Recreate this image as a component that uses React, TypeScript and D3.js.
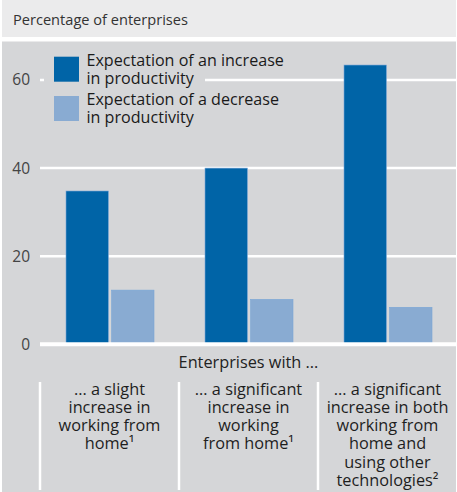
import React from "react";
import * as d3 from "d3";

const categoryLines: string[][] = [
  ["... a slight", "increase in", "working from", "home¹"],
  ["... a significant", "increase in", "working", "from home¹"],
  ["... a significant", "increase in both", "working from", "home and", "using other", "technologies²"],
];
const categories = ["slight", "significant", "both"];
const increaseValues = [34.8, 40.0, 63.4];
const decreaseValues = [12.3, 10.2, 8.4];
const yTicks = [0, 20, 40, 60];
const seriesNames = [
  ["Expectation of an increase", "in productivity"],
  ["Expectation of a decrease", "in productivity"],
];
const yTitle = "Percentage of enterprises";
const xTitle = "Enterprises with ...";

const W = 457;
const H = 492;
const DARK = "#0064a7";
const LIGHT = "#89abd2";
const PANEL = "#d5d6d8";
const HEADER = "#ebebec";
const FONT = "'Open Sans', 'Noto Sans', sans-serif";

export default function App() {
  const x = d3.scaleBand<string>().domain(categories).range([40, 457]).padding(0);
  const y = d3.scaleLinear().domain([0, 60]).range([344.3, 80]);
  const inner = d3
    .scaleBand<string>()
    .domain(["inc", "dec"])
    .range([26, x.bandwidth() - 25])
    .paddingInner(0.07);

  const series = [
    { key: "inc", values: increaseValues, color: DARK },
    { key: "dec", values: decreaseValues, color: LIGHT },
  ];

  return (
    <svg
      width={W}
      height={H}
      style={{ position: "absolute", left: 0, top: 0, fontFamily: FONT }}
    >
      <rect x={0} y={0} width={W} height={H} fill="#ffffff" />
      <rect x={2} y={0} width={454} height={37} fill={HEADER} />
      <text x={13} y={25} fontSize={14.6} fill="#333">
        {yTitle}
      </text>
      <rect x={2} y={41.5} width={454} height={H - 41.5} fill={PANEL} />

      {/* gridlines */}
      {yTicks
        .filter((t) => t !== 0)
        .map((t) => (
          <line key={t} x1={40} x2={W} y1={y(t)} y2={y(t)} stroke="#fff" strokeWidth={2.5} />
        ))}

      {/* y tick labels */}
      {yTicks.map((t) => (
        <text key={t} x={30} y={y(t)} dy="0.35em" textAnchor="end" fontSize={15.5} fill="#444">
          {t}
        </text>
      ))}

      {/* bars */}
      {series.map((s) =>
        categories.map((c, i) => (
          <rect
            key={s.key + c}
            x={(x(c) as number) + (inner(s.key) as number)}
            y={y(s.values[i])}
            width={inner.bandwidth()}
            height={y(0) - y(s.values[i])}
            fill={s.color}
            stroke="#7aa6d6"
            strokeWidth={0.6}
          />
        ))
      )}

      {/* zero line */}
      <line x1={40} x2={W} y1={y(0)} y2={y(0)} stroke="#fff" strokeWidth={4} />

      {/* legend */}
      <rect x={44} y={50} width={161} height={78} fill={PANEL} />
      {seriesNames.map((lines, i) => (
        <g key={i}>
          <rect x={54} y={56.7 + i * 39.3} width={25} height={25} fill={series[i].color} />
          {lines.map((l, j) => (
            <text key={j} x={86.5} y={66 + i * 39 + j * 18} fontSize={16.1} fill="#1a1a1a">
              {l}
            </text>
          ))}
        </g>
      ))}

      {/* x title */}
      <text x={(40 + 457) / 2} y={368} textAnchor="middle" fontSize={16.3} fill="#222">
        {xTitle}
      </text>

      {/* category dividers */}
      {categories.map((c) => (
        <line
          key={c}
          x1={x(c) as number}
          x2={x(c) as number}
          y1={382}
          y2={490}
          stroke="#fff"
          strokeWidth={2.5}
        />
      ))}

      {/* category labels */}
      {categories.map((c, i) => (
        <text
          key={c}
          x={(x(c) as number) + x.bandwidth() / 2}
          textAnchor="middle"
          fontSize={16.3}
          fill="#1e1e1e"
        >
          {categoryLines[i].map((l, j) => (
            <tspan key={j} x={(x(c) as number) + x.bandwidth() / 2} y={394.5 + j * 18.3}>
              {l}
            </tspan>
          ))}
        </text>
      ))}
    </svg>
  );
}
